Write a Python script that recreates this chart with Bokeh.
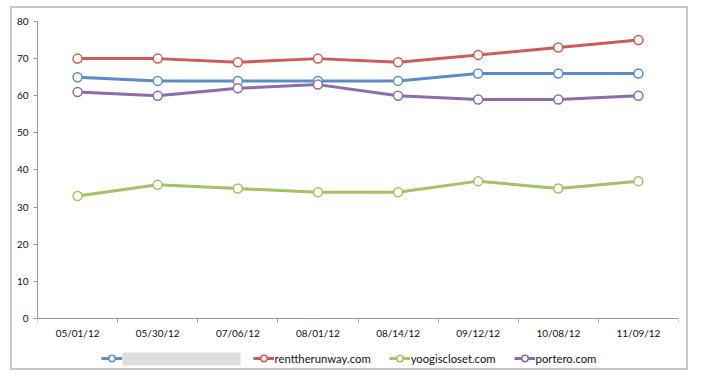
from bokeh.plotting import figure
from bokeh.models import Legend, LegendItem, FixedTicker, BoxAnnotation, Range1d
from bokeh.core.properties import value
from bokeh.embed import file_html
from bokeh.resources import INLINE

# ---- data ----
dates = ["05/01/12", "05/30/12", "07/06/12", "08/01/12", "08/14/12", "09/12/12", "10/08/12", "11/09/12"]
hidden_site = [65, 64, 64, 64, 64, 66, 66, 66]      # label blurred in the original
renttherunway = [70, 70, 69, 70, 69, 71, 73, 75]
yoogiscloset = [33, 36, 35, 34, 34, 37, 35, 37]
portero = [61, 60, 62, 63, 60, 59, 59, 60]
y_ticks = [0, 10, 20, 30, 40, 50, 60, 70, 80]

series = [
    ("\u2003" * 13 + "\u2009", hidden_site, "#5A8DC8"),
    ("renttherunway.com", renttherunway, "#CF5B57"),
    ("yoogiscloset.com", yoogiscloset, "#A3C261"),
    ("portero.com", portero, "#8B6DAE"),
]

FONT = "Lato"
xs = [i + 0.5 for i in range(len(dates))]

p = figure(width=678, height=364, x_range=Range1d(0, len(dates)), y_range=Range1d(-12.93, y_ticks[-1]),
           output_backend="svg", toolbar_location=None,
           min_border_left=25, min_border_right=12, min_border_top=13, min_border_bottom=6)
p.styles = {"border": "2px solid #c8c8c8"}
p.margin = (6, 0, 0, 10)
p.outline_line_color = None
p.grid.visible = False

# x axis: only the category-boundary ticks, drawn at y = 0
xa = p.xaxis[0]
xa.fixed_location = 0
xa.ticker = FixedTicker(ticks=[], minor_ticks=list(range(len(dates) + 1)))
xa.major_tick_out = 0
xa.major_tick_in = 0
xa.minor_tick_out = 4
xa.minor_tick_in = 0
xa.minor_tick_line_color = "#9a9a9a"
xa.axis_line_color = "#9a9a9a"
xa.major_label_standoff = 0

# category labels under the x axis
p.text(x=xs, y=[y_ticks[0]] * len(xs), text=dates, y_offset=9,
       text_align="center", text_baseline="top",
       text_font=value(FONT), text_font_size="10px", text_color="#111111")

ya = p.yaxis[0]
ya.bounds = (y_ticks[0], y_ticks[-1])
ya.ticker = FixedTicker(ticks=y_ticks)
ya.major_tick_out = 4
ya.major_tick_in = 0
ya.minor_tick_out = 0
ya.minor_tick_in = 0
ya.major_tick_line_color = "#9a9a9a"
ya.axis_line_color = "#9a9a9a"
ya.major_label_standoff = 5
ya.major_label_text_font = FONT
ya.major_label_text_font_size = "10px"
ya.major_label_text_color = "#111111"

items = []
for name, vals, col in series:
    ln = p.line(xs, vals, line_color=col, line_width=3)
    sc = p.scatter(xs, vals, size=9, fill_color="white", line_color=col, line_width=1.5)
    items.append(LegendItem(label=name, renderers=[ln, sc]))

legend = Legend(items=items, orientation="horizontal", location=(64, 0),
                glyph_width=21, glyph_height=16, label_standoff=1, spacing=18,
                padding=0, margin=0, border_line_color=None, background_fill_alpha=0,
                label_text_font=FONT, label_text_font_size="11.3px", label_text_color="#111111")
p.add_layout(legend, "center")

# blurred-out label of the first series (grey box)
blur = BoxAnnotation(left=1.061, right=2.534, top=-9.16, bottom=-12.66,
                     fill_color="#dedede", fill_alpha=1, line_color=None)
p.add_layout(blur)

open("out.html", "w").write(file_html(p, INLINE))
